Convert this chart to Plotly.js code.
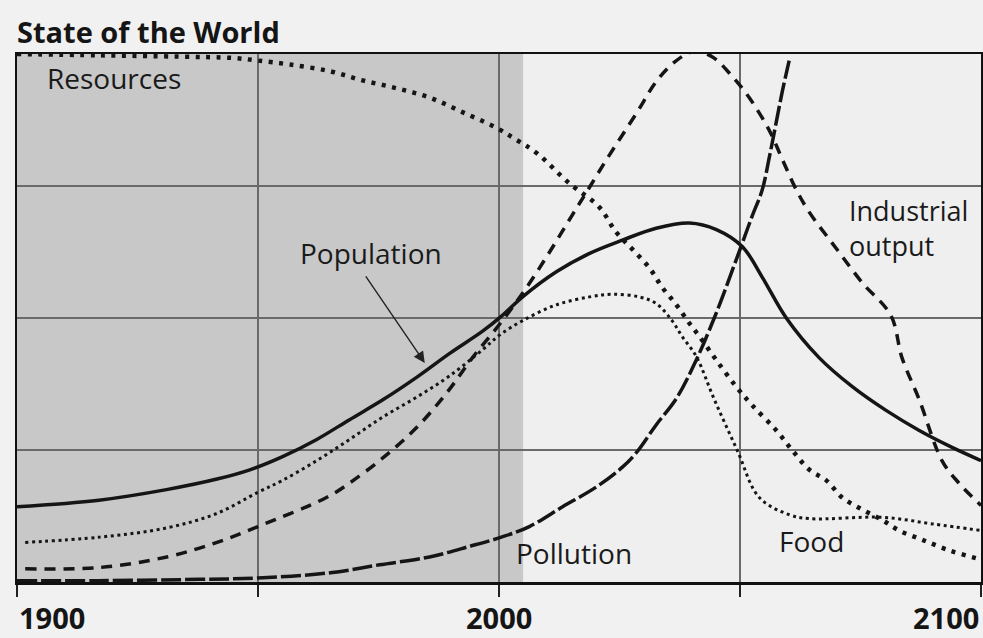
<!DOCTYPE html>
<html>
<head>
<meta charset="utf-8">
<script src="https://cdn.plot.ly/plotly-3.0.1.min.js"></script>
<style>
html,body{margin:0;padding:0;background:#f1f1f1;}
#chart{width:983px;height:638px;}
</style>
</head>
<body>
<div id="chart"></div>
<script>
// ---- data ----
var popYears = [1900,1917,1931,1941.5,1948.3,1955.1,1962.2,1969,1975.9,1982.9,1989.7,1996.6,2000.4,2004.9,2011.9,2018.8,2025.6,2032.6,2039.5,2045.1,2050.5,2054.6,2059.6,2066.4,2073.3,2080.3,2087.1,2094,2100];
var popValues = [0.57,0.62,0.70,0.78,0.85,0.95,1.08,1.23,1.38,1.55,1.73,1.90,2.01,2.16,2.35,2.49,2.59,2.68,2.72,2.67,2.54,2.31,2.00,1.70,1.48,1.30,1.15,1.02,0.92];

var foodYears = [1901.7,1917.2,1931.1,1941.5,1950,1955.1,1962.2,1969,1975.9,1982.9,1989.7,1996.6,2000.1,2004.9,2011.9,2018.8,2023.5,2029.1,2032.6,2035.9,2038,2040.9,2044.7,2049.4,2054,2060.2,2064.4,2079.5,2090,2100];
var foodValues = [0.30,0.34,0.41,0.52,0.68,0.77,0.92,1.08,1.25,1.40,1.56,1.76,1.87,1.98,2.10,2.16,2.18,2.16,2.11,1.98,1.86,1.71,1.38,1.00,0.64,0.51,0.48,0.49,0.44,0.39];

var indYears = [1901.7,1917.2,1931.1,1941.5,1950,1964.2,1969,1975.9,1982.9,1989.1,1994.5,2000.5,2005.7,2010.5,2015.2,2018.1,2022.3,2028.5,2032.8,2036.8,2040.5,2044.2,2048.4,2051.9,2056.1,2058.8,2061.7,2064.4,2069.9,2075.3,2081.3,2083.6,2087.2,2091.9,2095.4,2100];
var indValues = [0.10,0.11,0.19,0.30,0.42,0.64,0.75,0.94,1.17,1.43,1.70,1.97,2.23,2.50,2.78,2.95,3.20,3.55,3.80,3.95,4.02,3.98,3.83,3.67,3.42,3.20,2.97,2.80,2.53,2.27,2.02,1.70,1.38,0.92,0.75,0.58];

var polYears = [1900,1917,1938,1950,1965,1975.2,1985.6,1993.9,2000.5,2006.3,2013.2,2020.2,2025.6,2028.5,2032.6,2036.8,2040.9,2045.1,2048.4,2050.5,2052.5,2054.6,2056.1,2057.5,2058.8,2060.2];
var polValues = [0.01,0.01,0.02,0.03,0.07,0.13,0.19,0.27,0.34,0.42,0.57,0.72,0.87,0.98,1.19,1.39,1.68,2.04,2.36,2.57,2.77,2.97,3.22,3.48,3.72,3.95];

var resYears = [1900,1917,1933.8,1944.8,1950,1956.6,1964.9,1971.7,1978.8,1985.6,1992.4,1999.5,2003.6,2007.8,2014.6,2020.8,2024.3,2027.7,2031.2,2033.9,2036.8,2039.5,2041.6,2045.1,2049.2,2052.5,2057.5,2060.8,2064.4,2067.9,2071.2,2075.3,2079.5,2083,2087.8,2093.4,2099,2100];
var resValues = [4.0,3.99,3.98,3.97,3.95,3.92,3.87,3.80,3.74,3.67,3.56,3.44,3.35,3.25,3.02,2.84,2.65,2.52,2.38,2.23,2.10,1.96,1.86,1.68,1.48,1.34,1.15,1.00,0.85,0.77,0.64,0.55,0.47,0.39,0.32,0.24,0.18,0.17];

var tickYears = [1900,1950,2000,2050,2100];
var tickLabels = ['1900','','2000','','2100'];

var seriesLabels = ['Resources','Population','Industrial<br>output','Pollution','Food'];

// ---- chart ----
var FONT = 'Open Sans, Noto Sans, sans-serif';
function line(x,y,dash,w){
  return {x:x,y:y,type:'scatter',mode:'lines',hoverinfo:'skip',
    line:{color:'#151515',width:w,dash:dash,shape:'spline',smoothing:1}};
}
var traces = [
  line(resYears,resValues,'4px,6.5px',4.5),
  line(foodYears,foodValues,'3px,3.6px',3),
  line(indYears,indValues,'11px,8px',3.5),
  line(polYears,polValues,'20px,4px',3.5),
  line(popYears,popValues,'solid',3.5)
];

var annotations = [];
// tick labels
tickYears.forEach(function(yr,i){
  if(!tickLabels[i]) return;
  annotations.push({x:yr,xref:'x',y:0,yref:'paper',yshift:-35,text:tickLabels[i],showarrow:false,
    xanchor: i===0?'left':(i===tickYears.length-1?'right':'center'),yanchor:'middle',
    font:{family:FONT,size:29,color:'#151515',weight:'bold'}});
});
// series labels
var labelPos = [[1905.8,3.82],[1958.3,2.49],[2072.2,2.68],[2003.2,0.22],[2057.7,0.31]];
seriesLabels.forEach(function(t,i){
  annotations.push({x:labelPos[i][0],y:labelPos[i][1],xref:'x',yref:'y',text:t,showarrow:false,
    xanchor:'left',yanchor:'middle',align:'left',font:{family:FONT,size:i===2?27:28,color:'#1a1a1a'}});
});
// arrow to population
annotations.push({x:1984.6,y:1.66,xref:'x',yref:'y',ax:-60,ay:-88,text:'',showarrow:true,
  arrowhead:2,arrowsize:1.6,arrowwidth:1.4,arrowcolor:'#222'});

var layout = {
  width:983,height:638,
  margin:{l:17,r:2,t:54,b:56},
  paper_bgcolor:'#f1f1f1',plot_bgcolor:'#efefef',
  showlegend:false,
  title:{text:'State of the World',x:17/983,xanchor:'left',xref:'container',y:1-33/638,yanchor:'middle',
    font:{family:FONT,size:29,color:'#151515',weight:'bold'}},
  xaxis:{range:[1900,2100],tickvals:tickYears,ticktext:['','','','',''],showgrid:true,gridcolor:'#6a6a6a',gridwidth:1.5,
    showline:true,mirror:true,linecolor:'#111',linewidth:2.5,ticks:'outside',ticklen:12,tickwidth:2,tickcolor:'#222',zeroline:false,fixedrange:true},
  yaxis:{range:[0,4],dtick:1,showticklabels:false,showgrid:true,gridcolor:'#6a6a6a',gridwidth:1.5,
    showline:true,mirror:true,linecolor:'#111',linewidth:2.5,ticks:'',zeroline:false,fixedrange:true},
  shapes:[{type:'rect',xref:'x',yref:'y',x0:1900,x1:2005,y0:0,y1:4,fillcolor:'#c8c8c8',line:{width:0},layer:'below'}],
  annotations:annotations
};
Plotly.newPlot('chart',traces,layout,{displayModeBar:false,staticPlot:true});
</script>
</body>
</html>
